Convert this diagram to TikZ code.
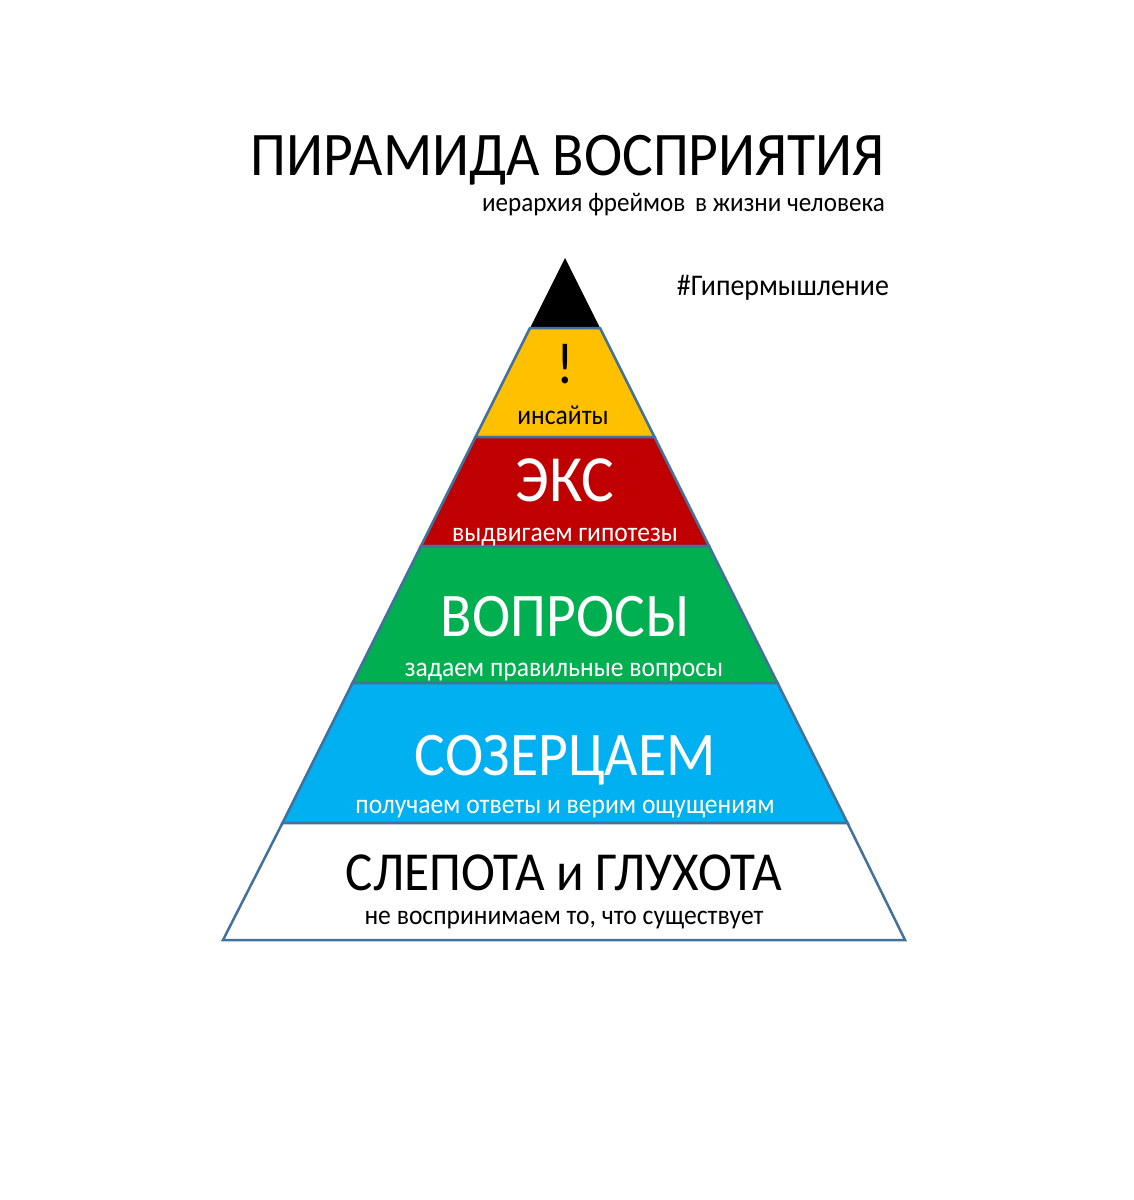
\documentclass[tikz,border=0pt]{standalone}
\usepackage{fontspec}
\setmainfont{Carlito}[FakeStretch=0.93]
\definecolor{edge}{HTML}{41719C}
\definecolor{lyellow}{HTML}{FFC000}
\definecolor{lred}{HTML}{C00000}
\definecolor{lgreen}{HTML}{00B050}
\definecolor{lblue}{HTML}{00B0F0}
\tikzset{
  layer/.style={draw=edge, line width=2.5pt, line join=miter},
  txt/.style={anchor=base, inner sep=0pt},
}
\newcommand{\fs}[1]{\fontsize{#1}{#1}\selectfont}
\begin{document}
\begin{tikzpicture}[x=1pt,y=-1pt]
\useasboundingbox[fill=white] (0,0) rectangle (1134,1200);
% pyramid geometry: apex (565,258), base 223..905 at y=940
\coordinate (apex) at (565,258);
\coordinate (L1) at (530,328);   \coordinate (R1) at (600,328);
\coordinate (L2) at (475.5,437); \coordinate (R2) at (654.5,437);
\coordinate (L3) at (421,546);   \coordinate (R3) at (709,546);
\coordinate (L4) at (352.5,683); \coordinate (R4) at (777.5,683);
\coordinate (L5) at (282.5,823); \coordinate (R5) at (847.5,823);
\coordinate (L6) at (223,940);   \coordinate (R6) at (905,940);
\fill[black] (apex) -- (R1) -- (L1) -- cycle;
\filldraw[layer, fill=lyellow] (L1) -- (R1) -- (R2) -- (L2) -- cycle;
\filldraw[layer, fill=lred] (L2) -- (R2) -- (R3) -- (L3) -- cycle;
\filldraw[layer, fill=lgreen] (L3) -- (R3) -- (R4) -- (L4) -- cycle;
\filldraw[layer, fill=lblue] (L4) -- (R4) -- (R5) -- (L5) -- cycle;
\filldraw[layer, fill=white] (L5) -- (R5) -- (R6) -- (L6) -- cycle;
% titles
\node[txt, anchor=base east] (title) at (885,175) {\fs{62}ПИРАМИДА ВОСПРИЯТИЯ};
\node[txt, anchor=base east] (sub) at (885,211) {\fs{27}иерархия фреймов\hspace{0.15em} в жизни человека};
\node[txt, anchor=base east] (tag) at (889,295) {\fs{30}\#Гипермышление};
% layer texts
\node[txt] (t1a) at (565,383) {\fs{58}!};
\node[txt] (t1b) at (563,424) {\fs{27.5}инсайты};
\node[txt, text=white] (t2a) at (565,501) {\fs{66}ЭКС};
\node[txt, text=white] (t2b) at (565,541) {\fs{27.5}выдвигаем гипотезы};
\node[txt, text=white] (t3a) at (565,636) {\fs{62}ВОПРОСЫ};
\node[txt, text=white] (t3b) at (564,676) {\fs{27.5}задаем правильные вопросы};
\node[txt, text=white] (t4a) at (565,775) {\fs{62}СОЗЕРЦАЕМ};
\node[txt, text=white] (t4b) at (565,813) {\fs{27.5}получаем ответы и верим ощущениям};
\node[txt] (t5a) at (564,890) {\fs{55}СЛЕПОТА и ГЛУХОТА};
\node[txt] (t5b) at (564,924) {\fs{27.5}не воспринимаем то, что существует};
\end{tikzpicture}
\end{document}
